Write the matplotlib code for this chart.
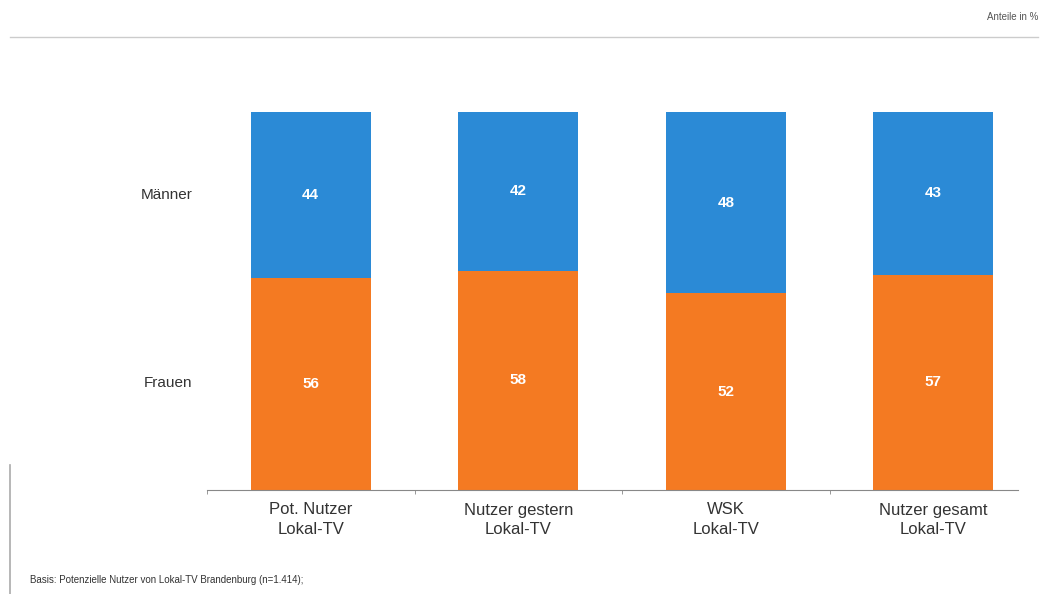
import matplotlib.pyplot as plt
import numpy as np

plt.rcParams['font.family'] = ['Liberation Sans', 'DejaVu Sans']

# data (Anteile in %)
categories = ['Pot. Nutzer\nLokal-TV', 'Nutzer gestern\nLokal-TV', 'WSK\nLokal-TV', 'Nutzer gesamt\nLokal-TV']
frauen = [56, 58, 52, 57]
maenner = [44, 42, 48, 43]

col_frauen = '#f47a22'
col_maenner = '#2b8ad6'
txt_col = '#333333'

fig = plt.figure(figsize=(10.48, 5.94), dpi=100)
ax = fig.add_axes([207/1048, 104/594, 830/1048, 378/594])

x = np.arange(len(categories))
ax.bar(x, frauen, width=0.58, color=col_frauen)
ax.bar(x, maenner, width=0.58, bottom=frauen, color=col_maenner)

for i in range(len(categories)):
    ax.text(x[i], frauen[i] / 2, str(frauen[i]), ha='center', va='center',
            color='white', fontsize=11, fontweight='bold')
    ax.text(x[i], frauen[i] + maenner[i] / 2, str(maenner[i]), ha='center', va='center',
            color='white', fontsize=11, fontweight='bold')

ax.set_xlim(-0.5, 3.5)
ax.set_ylim(0, 100)
ax.set_xticks(x)
ax.set_xticklabels(categories, fontsize=12, color=txt_col, linespacing=1.35)
ax.set_xticks(np.arange(-0.5, 3.5, 1), minor=True)
ax.tick_params(axis='x', which='major', length=0, pad=9)
ax.tick_params(axis='x', which='minor', length=3, color='#888888')
ax.set_yticks([])
for s in ['top', 'right', 'left']:
    ax.spines[s].set_visible(False)
ax.spines['bottom'].set_color('#888888')
ax.spines['bottom'].set_bounds(-0.5, 3.41)

# series labels on the left
ax.text(-0.57, 78, 'Männer', ha='right', va='center', fontsize=11, color=txt_col)
ax.text(-0.57, 28.3, 'Frauen', ha='right', va='center', fontsize=11, color=txt_col)

# header / footer decorations
fig.add_artist(plt.Line2D([0.01, 0.99], [1 - 37/594, 1 - 37/594], color='#cccccc', lw=1))
fig.add_artist(plt.Line2D([10/1048, 10/1048], [0, 1 - 465/594], color='#aaaaaa', lw=1.2))
fig.text(1 - 10/1048, 1 - 17/594, 'Anteile in %', ha='right', va='center', fontsize=7, color='#555555')
fig.text(30/1048, 1 - 580/594, 'Basis: Potenzielle Nutzer von Lokal-TV Brandenburg (n=1.414);',
         ha='left', va='center', fontsize=7, color='#333333')

fig.savefig('out.png', dpi=100)
